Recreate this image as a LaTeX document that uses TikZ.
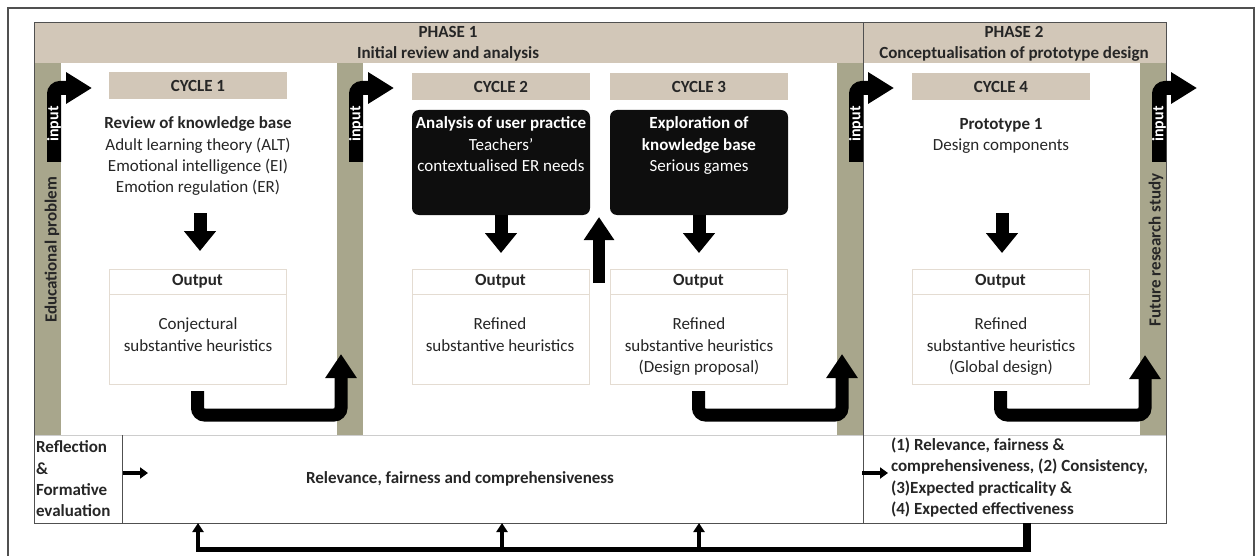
\documentclass[tikz,border=0pt]{standalone}
\usepackage{fontspec}
\setmainfont{Carlito}
\usetikzlibrary{arrows.meta}

\definecolor{tan}{RGB}{210,199,184}
\definecolor{olive}{RGB}{168,166,140}
\definecolor{ink}{RGB}{38,38,38}
\definecolor{boxline}{RGB}{228,220,210}
\definecolor{frameline}{RGB}{80,80,80}
\definecolor{rowline}{RGB}{205,205,205}
\definecolor{nearblack}{RGB}{14,14,14}

\begin{document}
\begin{tikzpicture}[x=1pt,y=-1pt,
  font=\fontsize{17}{21.3}\selectfont,
  every node/.style={inner sep=0pt, outer sep=0pt, text=ink},
  cyclehead/.style={fill=tan, minimum width=178pt, minimum height=27pt, anchor=north west, font=\fontsize{17}{21.3}\selectfont\bfseries},
  blackbox/.style={fill=nearblack, rounded corners=7pt, minimum width=178pt, minimum height=105pt, anchor=north west},
  outbox/.style={draw=boxline, line width=1pt, fill=white, minimum width=177pt, minimum height=115pt, anchor=north west},
  txt/.style={align=center, anchor=north},
  vlabel/.style={rotate=90, font=\fontsize{17}{21.3}\selectfont\bfseries},
  inlabel/.style={rotate=90, text=white, font=\fontsize{16}{20}\selectfont\bfseries},
  inarrow/.style={line width=14pt, rounded corners=6pt, -{Triangle[length=26pt,width=30pt]}},
  downarrow/.style={line width=13pt, -{Triangle[length=20pt,width=31pt]}},
  bentarrow/.style={line width=13pt, rounded corners=7pt, -{Triangle[length=24pt,width=30pt]}},
  fbline/.style={line width=5pt},
  fbarrow/.style={line width=4pt, -{Triangle[length=9pt,width=11pt]}},
  smallarrow/.style={line width=4pt, -{Triangle[length=8pt,width=11pt]}}
]
\useasboundingbox (0,0) rectangle (1260,556);

% outer frame
\draw[frameline, line width=1.5pt] (8,8) rectangle (1254,600);

% phase header band and side bars
\fill[tan] (34,23) rectangle (1166,63);
\fill[olive] (34,63) rectangle (61,435);
\fill[olive] (337,63) rectangle (363,435);
\fill[olive] (837,63) rectangle (863,435);
\fill[olive] (1140,63) rectangle (1166,435);

% reflection row
\draw[rowline, line width=1pt] (34,435) -- (1166,435);
\draw[frameline, line width=1pt] (122,435) -- (122,523);

% phase outlines
\draw[frameline, line width=1pt] (34,23) rectangle (1166,523);
\draw[frameline, line width=1pt] (863,23) -- (863,523);

% phase titles
\node[txt, font=\fontsize{17}{21.3}\selectfont\bfseries] (ph1) at (448,26) {PHASE 1\\Initial review and analysis};
\node[txt, font=\fontsize{17}{21.3}\selectfont\bfseries] (ph2) at (1014,26) {PHASE 2\\Conceptualisation of prototype design};

% side labels
\node[vlabel] (edu) at (52,250) {Educational problem};
\node[vlabel] (fut) at (1156,250) {Future research study};

% cycle headers
\node[cyclehead] (cy1) at (109,72) {CYCLE 1};
\node[cyclehead] (cy2) at (412,73) {CYCLE 2};
\node[cyclehead] (cy3) at (610,73) {CYCLE 3};
\node[cyclehead] (cy4) at (912,73) {CYCLE 4};

% cycle contents
\node[txt] (t1) at (198,117) {\textbf{Review of knowledge base}\\Adult learning theory (ALT)\\Emotional intelligence (EI)\\Emotion regulation (ER)};
\node[blackbox] (b2) at (412,110) {};
\node[blackbox] (b3) at (610,110) {};
\node[txt, text=white] (t2) at (501,117) {\textbf{Analysis of user practice}\\Teachers’\\contextualised ER needs};
\node[txt, text=white] (t3) at (699,117) {\textbf{Exploration of}\\\textbf{knowledge base}\\Serious games};
\node[txt] (t4) at (1001,118) {\textbf{Prototype 1}\\Design components};

% output boxes
\foreach \n/\x in {o1/109, o2/412, o3/610, o4/912} {
  \node[outbox] (\n) at (\x,269) {};
  \draw[boxline, line width=1pt] (\n.north west) ++(0,25) -- ++(177,0);
  \node[font=\fontsize{17}{21.3}\selectfont\bfseries] (\n h) at ([yshift=-12.5pt]\n.north) {Output};
}
\node[txt] (o1t) at (198,318) {Conjectural\\substantive heuristics};
\node[txt] (o2t) at (500,318) {Refined\\substantive heuristics};
\node[txt] (o3t) at (699,318) {Refined\\substantive heuristics\\(Design proposal)};
\node[txt] (o4t) at (1001,318) {Refined\\substantive heuristics\\(Global design)};

% input arrows
\coordinate (in1s) at (54,162);  \coordinate (in1e) at (92,88);
\coordinate (in2s) at (356,162); \coordinate (in2e) at (394,88);
\coordinate (in3s) at (856,162); \coordinate (in3e) at (894,88);
\coordinate (in4s) at (1159,162); \coordinate (in4e) at (1197,88);
\foreach \i in {1,2,3,4} {
  \draw[inarrow] (in\i s) |- (in\i e);
}
\node[inlabel] (il1) at (54,124) {input};
\node[inlabel] (il2) at (356,124) {input};
\node[inlabel] (il3) at (856,124) {input};
\node[inlabel] (il4) at (1159,124) {input};

% arrows from contents to outputs
\coordinate (d1s) at (200,213);
\draw[downarrow] (d1s) -- ++(0,38);
\draw[downarrow] (b2.south) -- ++(0,38);
\draw[downarrow] (b3.south) -- ++(0,38);
\coordinate (d4s) at (1002,213);
\draw[downarrow] (d4s) -- ++(0,40);

% arrow back from cycle 2 output towards cycle 3
\coordinate (u1s) at (599,283);
\coordinate (u1e) at (599,217);
\draw[line width=12pt, -{Triangle[length=23pt,width=29pt]}] (u1s) -- (u1e);

% bent arrows from outputs into the next input bar
\coordinate (k1) at (341,415); \coordinate (k1t) at (341,354);
\coordinate (k3) at (842,415); \coordinate (k3t) at (842,354);
\coordinate (k4) at (1145,415); \coordinate (k4t) at (1145,355);
\draw[bentarrow] ([yshift=-7pt]o1.south) |- (k1) -- (k1t);
\draw[bentarrow] ([yshift=-7pt]o3.south) |- (k3) -- (k3t);
\draw[bentarrow] ([yshift=-7pt]o4.south) |- (k4) -- (k4t);

% reflection row texts
\node[align=left, anchor=north west, font=\fontsize{17}{21.3}\selectfont\bfseries] (rl) at (36,441) {Reflection\\\&\\Formative\\evaluation};
\node[font=\fontsize{17}{21.3}\selectfont\bfseries] (r1) at (460,479) {Relevance, fairness and comprehensiveness};
\node[align=left, anchor=north west, font=\fontsize{17}{21.3}\selectfont\bfseries] (r2) at (891,438) {(1) Relevance, fairness \&\\comprehensiveness, (2) Consistency,\\(3)Expected practicality \&\\(4) Expected effectiveness};
\coordinate (s1s) at (123,473); \coordinate (s1e) at (148,473);
\coordinate (s2s) at (862,473); \coordinate (s2e) at (888,473);
\draw[smallarrow] (s1s) -- (s1e);
\draw[smallarrow] (s2s) -- (s2e);

% formative feedback loop
\coordinate (fb0) at (1027,523);
\coordinate (fbc) at (1027,549);
\coordinate (fbl) at (198,549);
\coordinate (fa1) at (198,523);
\coordinate (fa2b) at (502,549); \coordinate (fa2) at (502,523);
\coordinate (fa3b) at (699,549); \coordinate (fa3) at (699,523);
\draw[line width=8pt] (fb0) -- ([yshift=-2.5pt]fbc);
\draw[fbline] ([xshift=4pt]fbc) -- ([xshift=-2pt]fbl);
\draw[fbarrow] ([yshift=-2.5pt]fbl) -- (fa1);
\draw[fbarrow] (fa2b) -- (fa2);
\draw[fbarrow] (fa3b) -- (fa3);
\end{tikzpicture}
\end{document}
